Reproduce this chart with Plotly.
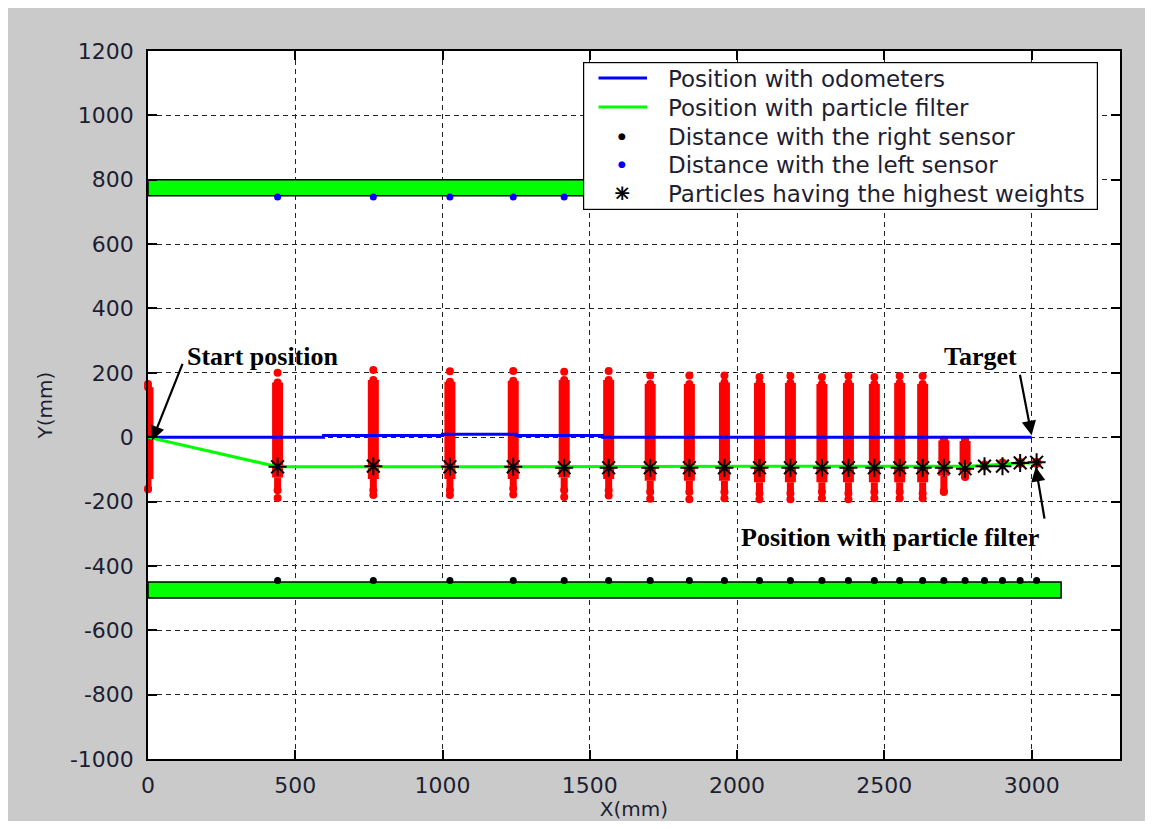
import plotly.graph_objects as go

# ---------------- data ----------------
odo_x = [0, 596, 596, 1000, 1000, 1250, 1250, 1543, 1543, 3000]
odo_y = [0, 0, 5, 5, 9, 9, 5, 5, 0, 0]

pf_x = [0, 440, 765, 1025, 1240, 1413, 1564, 1705, 1838, 1957, 2076, 2181,
        2288, 2378, 2466, 2552, 2630, 2702, 2774, 2840, 2901, 2961, 3017]
pf_y = [0, -92, -92, -92, -92, -92, -92, -92, -92, -92, -92, -92,
        -92, -92, -92, -92, -92, -92, -90, -88, -83, -80, -80]

star_x = pf_x[1:]
star_y = [-92, -90, -92, -92, -95, -95, -95, -95, -95, -95, -95, -95,
          -95, -95, -95, -95, -95, -98, -90, -90, -80, -78, -78]

right_x = star_x
right_y = [-445] * len(right_x)
left_x = star_x
left_y = [746] * len(left_x)

cluster_x = [0, 440, 765, 1025, 1240, 1413, 1564, 1705, 1838, 1957, 2076,
             2181, 2288, 2378, 2466, 2552, 2630, 2702, 2774]
core_top = [155, 170, 178, 172, 175, 178, 178, 165, 165, 170, 168,
            168, 165, 168, 165, 168, 165, -10, -12]
core_bottom = [-130, -125, -130, -130, -130, -125, -130, -135, -135, -135, -140,
               -140, -140, -140, -140, -140, -140, -120, -110]
tail_bottom = [-160, -165, -165, -165, -160, -165, -165, -170, -170, -170, -175,
               -175, -170, -175, -170, -170, -175, -168, -122]
top_dot = [165, 200, 209, 205, 206, 203, 206, 192, 192, 192, 187,
           190, 187, 190, 187, 190, 190, -8, -10]
bottom_dot = [-162, -189, -180, -180, -178, -186, -181, -191, -193, -190, -193,
              -193, -190, -193, -190, -190, -190, -170, -124]
small_red_x = [2840, 2901, 2961, 3017]
small_red_y = [-88, -82, -80, -80]

wall_top = (750, 800)
wall_bottom = (-500, -450)
wall_x = (0, 3100)

x_ticks = [0, 500, 1000, 1500, 2000, 2500, 3000]
x_tick_text = ["0", "500", "1000", "1500", "2000", "2500", "3000"]
y_ticks = [-1000, -800, -600, -400, -200, 0, 200, 400, 600, 800, 1000, 1200]
y_tick_text = ["-1000", "-800", "-600", "-400", "-200", "0", "200", "400",
               "600", "800", "1000", "1200"]

legend_labels = ["Position with odometers", "Position with particle filter",
                 "Distance with the right sensor", "Distance with the left sensor",
                 "Particles having the highest weights"]

# ---------------- layout geometry (screen pixels; page body has an 8px margin) ----------------
OFF = 8
FW, FH = 1137, 813
SL, SR, ST, SB = 148, 1120, 51, 759          # plot area edges on screen
L, R, T, B = SL - OFF, OFF + FW - SR, ST - OFF, OFF + FH - SB
PW, PH = SR - SL, SB - ST


def px(xs):
    return (xs - SL) / PW


def py(ys):
    return (SB - ys) / PH


fig = go.Figure()

# red particle clusters
cx, cy = [], []
for x, a, b in zip(cluster_x, core_top, core_bottom):
    cx += [x, x, None]
    cy += [a, b, None]
fig.add_trace(go.Scatter(x=cx, y=cy, mode="lines", line=dict(color="#ff0000", width=11),
                         showlegend=False, hoverinfo="skip"))
tx, ty = [], []
for x, a, b in zip(cluster_x, core_bottom, tail_bottom):
    tx += [x, x, None]
    ty += [a, b, None]
fig.add_trace(go.Scatter(x=tx, y=ty, mode="lines", line=dict(color="#ff0000", width=7),
                         showlegend=False, hoverinfo="skip"))
fig.add_trace(go.Scatter(x=cluster_x + cluster_x + cluster_x + cluster_x,
                         y=top_dot + bottom_dot + core_top + tail_bottom,
                         mode="markers", marker=dict(color="#ff0000", size=8),
                         cliponaxis=False, showlegend=False, hoverinfo="skip"))
fig.add_trace(go.Scatter(x=small_red_x, y=small_red_y, mode="markers",
                         marker=dict(color="#ff0000", size=10),
                         showlegend=False, hoverinfo="skip"))

# lines and markers
fig.add_trace(go.Scatter(x=odo_x, y=odo_y, mode="lines", name=legend_labels[0],
                         line=dict(color="#0000ff", width=3), showlegend=False))
fig.add_trace(go.Scatter(x=pf_x, y=pf_y, mode="lines", name=legend_labels[1],
                         line=dict(color="#00ff00", width=3), showlegend=False))
fig.add_trace(go.Scatter(x=right_x, y=right_y, mode="markers", name=legend_labels[2],
                         marker=dict(color="black", size=7), showlegend=False))
fig.add_trace(go.Scatter(x=left_x, y=left_y, mode="markers", name=legend_labels[3],
                         marker=dict(color="#0000ff", size=7), showlegend=False))
fig.add_trace(go.Scatter(x=star_x, y=star_y, mode="markers", name=legend_labels[4],
                         marker=dict(symbol="asterisk-open", size=15, color="black",
                                     line=dict(color="black", width=2)),
                         showlegend=False))

shapes = []
for (y0, y1) in (wall_top, wall_bottom):
    shapes.append(dict(type="rect", xref="x", yref="y", x0=wall_x[0], x1=wall_x[1],
                       y0=y0, y1=y1, fillcolor="#00ff00",
                       line=dict(color="black", width=1.5), layer="between"))

serif = dict(family="Liberation Serif", size=26, color="black")
annotations = [
    dict(xref="paper", yref="paper", x=px(185), y=py(357), text="<b>Start position</b>",
         showarrow=False, xanchor="left", yanchor="middle", font=serif),
    dict(xref="paper", yref="paper", x=px(980), y=py(357), text="<b>Target</b>",
         showarrow=False, xanchor="center", yanchor="middle", font=serif),
    dict(xref="paper", yref="paper", x=px(890), y=py(537),
         text="<b>Position with particle filter</b>",
         showarrow=False, xanchor="center", yanchor="middle", font=serif),
    dict(xref="x", yref="y", x=14, y=-10, ax=31, ay=-78, text="", showarrow=True,
         arrowhead=2, arrowsize=1.3, arrowwidth=2.2, arrowcolor="black"),
    dict(xref="x", yref="y", x=3000, y=6, ax=-12, ay=-62, text="", showarrow=True,
         arrowhead=2, arrowsize=1.3, arrowwidth=2.2, arrowcolor="black"),
    dict(xref="x", yref="y", x=3014, y=-93, ax=9, ay=53, text="", showarrow=True,
         arrowhead=2, arrowsize=1.3, arrowwidth=2.2, arrowcolor="black"),
]

# ---------------- hand-built legend box (drawn above the plot) ----------------
LEG_L, LEG_T, LEG_W, LEG_H = 583, 62, 515, 148
row_y = [78, 107, 135.5, 164, 193]
sym_x0, sym_x1, sym_c, text_x = 597, 647, 622, 666
legfont = dict(family="DejaVu Sans", size=23, color="#1e1e32")

annotations.append(dict(xref="paper", yref="paper", x=px(LEG_L), y=py(LEG_T),
                        xanchor="left", yanchor="top", text=" ", showarrow=False,
                        width=LEG_W - 2, height=LEG_H - 2, borderpad=0,
                        bgcolor="white", bordercolor="black", borderwidth=1.2))
for lab, ry in zip(legend_labels, row_y):
    annotations.append(dict(xref="paper", yref="paper", x=px(text_x), y=py(ry + 1),
                            xanchor="left", yanchor="middle", text=lab,
                            showarrow=False, font=legfont))
# line samples
for ry, col in zip(row_y[:2], ["#0000ff", "#00ff00"]):
    annotations.append(dict(xref="paper", yref="paper", x=px(sym_x1), y=py(ry),
                            ax=sym_x0 - sym_x1, ay=0, text="", showarrow=True,
                            arrowhead=0, arrowwidth=3, arrowcolor=col, standoff=0,
                            startstandoff=0))
# dot samples
for ry, col in zip(row_y[2:4], ["black", "#0000ff"]):
    annotations.append(dict(xref="paper", yref="paper", x=px(sym_c), y=py(ry),
                            xanchor="center", yanchor="middle", text="●",
                            showarrow=False, font=dict(family="DejaVu Sans", size=9,
                                                       color=col)))
# asterisk sample (plus + cross)
for glyph, size in [("+", 22), ("×", 22)]:
    annotations.append(dict(xref="paper", yref="paper", x=px(sym_c), y=py(row_y[4] - 1),
                            xanchor="center", yanchor="middle", text=glyph,
                            showarrow=False, font=dict(family="DejaVu Sans", size=size,
                                                       color="black")))

tickfont = dict(family="DejaVu Sans", size=22, color="#1e1e32")
titlefont = dict(family="DejaVu Sans", size=20, color="#1e1e32")
axis_common = dict(showline=True, linecolor="black", linewidth=1.5, mirror="ticks",
                   ticks="inside", ticklen=9, tickwidth=1.5, tickcolor="black",
                   showgrid=True, gridcolor="#222222", gridwidth=1, griddash="5px,4px",
                   zeroline=False, tickfont=tickfont)

fig.update_layout(
    width=FW, height=FH,
    margin=dict(l=L, r=R, t=T, b=B, autoexpand=False),
    paper_bgcolor="#cacaca", plot_bgcolor="white",
    xaxis=dict(range=[0, 3300], tickvals=x_ticks, ticktext=x_tick_text,
               ticklabelstandoff=6,
               title=dict(text="X(mm)", font=titlefont, standoff=4), **axis_common),
    yaxis=dict(range=[-1000, 1200], tickvals=y_ticks, ticktext=y_tick_text,
               ticklabelstandoff=8,
               title=dict(text="Y(mm)", font=titlefont, standoff=12), **axis_common),
    shapes=shapes, annotations=annotations,
    showlegend=False,
)

fig.write_html("out.html")
